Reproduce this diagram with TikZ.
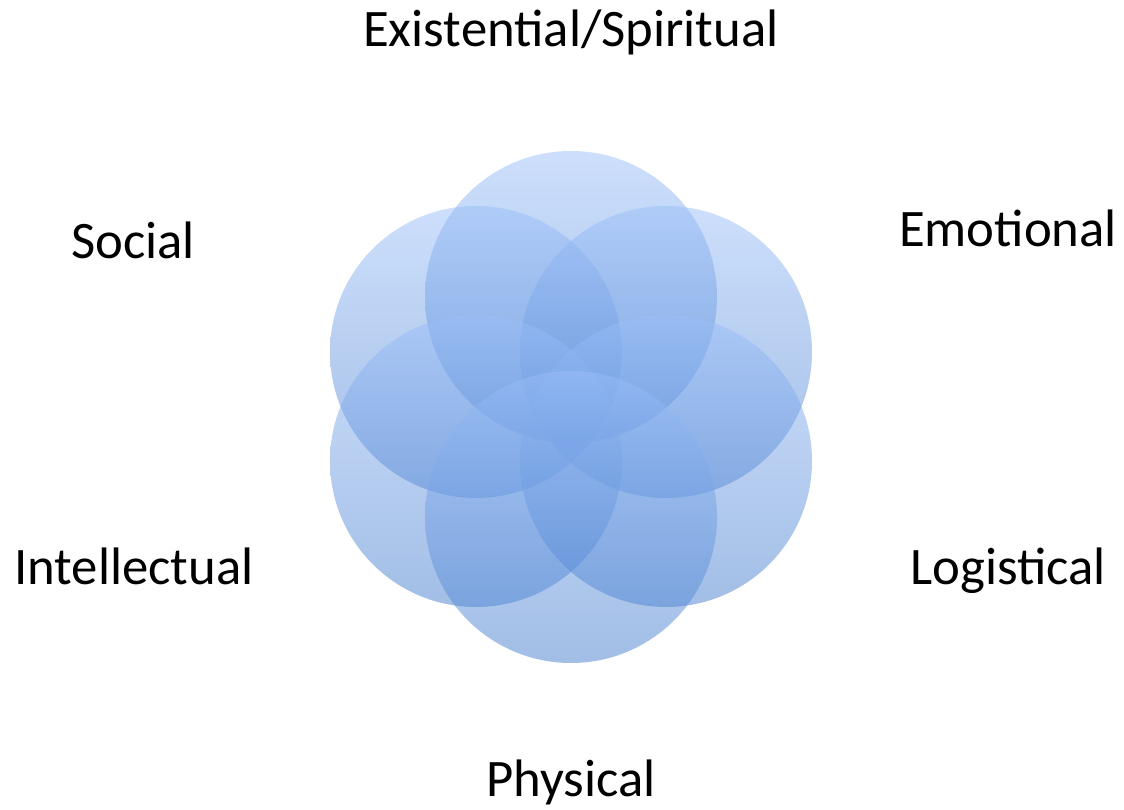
\documentclass[tikz,border=0pt]{standalone}
\usepackage{fontspec}
\setmainfont{Carlito}
\definecolor{petaltop}{RGB}{155,191,249}
\definecolor{petalbottom}{RGB}{69,125,205}

\begin{document}
\begin{tikzpicture}[every node/.style={font=\fontsize{15}{18}\selectfont},
  petal/.style={circle, draw=none, inner sep=0pt, minimum size=2.92cm, top color=petaltop, bottom color=petalbottom, fill opacity=0.5},
  dimlabel/.style={anchor=base, text opacity=1}]
  \useasboundingbox (0,0) rectangle (11.24,8.09);
  \node[petal] (spiritual) at (5.71,5.12) {};
  \node[petal] (social) at (4.76,4.57) {};
  \node[petal] (emotional) at (6.66,4.57) {};
  \node[petal] (intellectual) at (4.76,3.48) {};
  \node[petal] (logistical) at (6.66,3.48) {};
  \node[petal] (physical) at (5.71,2.92) {};
  \node[dimlabel] (spirituallabel) at (5.71,7.62) {Existential/Spiritual};
  \node[dimlabel] (sociallabel) at (1.33,5.50) {Social};
  \node[dimlabel] (emotionallabel) at (10.08,5.62) {Emotional};
  \node[dimlabel] (intellectuallabel) at (1.34,2.24) {Intellectual};
  \node[dimlabel] (logisticallabel) at (10.08,2.24) {Logistical};
  \node[dimlabel] (physicallabel) at (5.71,0.13) {Physical};
\end{tikzpicture}
\end{document}
